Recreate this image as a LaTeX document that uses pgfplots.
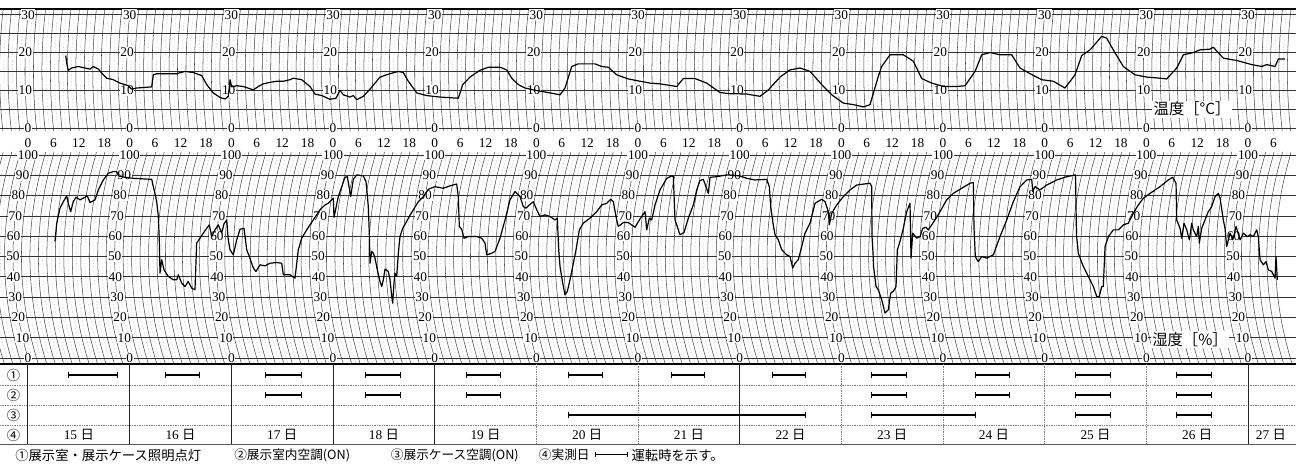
\documentclass[border=0pt]{standalone}
\usepackage{fontspec}
\setmainfont{Liberation Serif}
\newfontfamily\jp{Noto Sans CJK JP}
\usepackage{pgfplots}
\usepackage{pgfplotstable}
\pgfplotsset{compat=1.18}

% x = hours from 15th 0:00 (as drawn on the chart), t = deg C
\pgfplotstableread{
h t
8.90 19.2
9.14 17.2
9.51 15.3
10.32 15.9
11.87 16.3
13.46 15.9
14.64 15.6
15.42 16.3
16.60 15.6
17.78 14.1
18.58 13.2
20.14 12.8
21.72 11.9
23.68 11.2
24.48 10.3
25.66 10.6
29.20 10.9
29.58 14.1
30.38 14.4
35.10 14.4
37.06 15.0
39.02 14.7
41.01 13.9
42.19 11.5
43.74 9.3
45.33 8.1
46.51 7.7
47.28 8.4
47.69 12.8
48.09 10.9
49.27 11.2
50.83 11.0
53.19 10.1
54.37 11.0
55.55 11.7
57.13 12.1
58.71 12.4
60.27 12.4
61.85 12.8
62.63 13.2
64.61 12.8
66.57 11.0
67.75 9.0
69.33 8.6
71.29 7.6
72.71 7.9
73.65 10.0
74.43 8.8
76.01 8.2
76.79 8.6
77.60 7.5
79.15 8.4
80.74 10.3
83.10 13.5
85.46 14.4
87.42 15.0
88.60 14.7
89.78 12.4
91.76 9.3
94.12 8.6
97.26 8.2
101.58 7.9
102.62 11.5
104.34 13.5
106.70 15.3
108.66 16.1
111.42 16.1
113.01 15.4
114.19 13.2
115.75 11.5
117.33 10.6
119.29 10.1
121.27 9.7
123.23 9.3
125.59 8.8
126.77 10.6
128.35 16.3
129.91 17.0
133.85 17.0
135.43 16.3
136.99 16.1
138.97 14.1
141.71 13.0
144.47 12.4
146.84 11.9
149.20 11.7
153.14 11.0
154.70 13.1
157.46 13.1
160.22 11.9
163.36 9.4
165.72 9.1
169.66 9.0
172.80 8.4
174.76 10.1
177.52 13.5
179.89 15.4
182.25 15.9
184.61 15.0
187.37 11.5
189.73 8.8
192.47 6.6
194.83 6.2
197.19 5.6
198.77 6.2
200.73 13.7
201.53 16.3
203.49 19.4
206.63 19.4
208.99 17.7
210.98 13.1
213.34 11.9
216.08 11.0
219.24 11.0
221.20 11.2
223.56 15.0
225.14 19.4
227.10 20.0
229.46 19.4
232.22 19.4
234.17 15.9
236.54 14.4
239.30 12.8
242.04 12.4
244.80 10.6
247.16 14.1
248.74 19.2
250.71 20.7
253.47 24.3
254.65 23.8
256.61 19.9
258.57 16.3
261.33 14.1
264.09 13.5
267.23 13.2
268.81 13.0
271.17 15.9
272.73 19.4
275.09 20.0
276.67 20.7
279.03 20.9
279.81 21.4
282.17 18.5
285.34 17.9
288.88 16.8
291.24 16.3
292.42 16.8
294.38 16.3
295.16 18.3
296.74 18.3
}\temperature

% rh = relative humidity in %
\pgfplotstableread{
h rh
6.37 57.4
6.78 66.4
7.55 73.8
8.33 77.0
9.14 79.8
9.51 76.2
10.08 72.1
10.69 77.0
11.33 79.2
12.28 77.9
13.46 79.2
14.00 79.8
14.64 76.6
15.82 77.9
16.60 82.8
17.78 87.7
18.96 91.0
20.14 91.8
20.94 91.8
21.32 89.7
22.90 89.0
24.86 88.5
29.20 88.0
29.58 84.4
29.98 81.1
30.38 77.0
30.76 69.7
31.00 58.2
31.16 41.8
31.56 48.4
32.11 43.4
33.12 40.2
34.30 38.5
35.10 38.5
35.48 41.0
36.28 36.9
37.06 35.2
37.84 37.7
38.64 34.4
39.42 33.6
39.82 56.6
40.60 59.0
41.38 61.5
42.19 63.9
42.80 65.6
43.37 59.8
44.14 63.1
44.92 65.6
45.73 61.5
46.27 66.1
46.91 68.0
47.28 58.2
47.69 53.3
48.47 50.8
49.27 58.2
50.05 63.4
50.99 63.9
51.63 53.3
52.24 50.0
53.19 44.3
53.82 42.6
54.77 45.9
55.95 45.4
57.13 46.7
58.71 47.0
59.89 46.7
60.27 41.0
61.85 41.0
63.03 39.3
63.81 53.3
64.61 59.0
65.79 63.1
67.35 68.0
68.93 73.0
70.11 75.4
70.89 76.2
72.07 78.7
72.24 69.3
73.25 79.5
74.83 89.0
75.38 89.3
76.18 79.5
76.79 88.0
77.60 90.2
79.15 89.7
79.79 86.9
80.10 80.3
80.33 74.6
80.57 61.5
80.74 46.7
81.14 52.5
81.52 51.6
81.92 49.2
82.46 43.4
83.10 37.7
83.50 35.2
83.88 38.5
84.28 43.8
85.06 42.6
85.46 38.5
85.86 30.3
86.09 27.0
86.40 36.9
86.64 41.8
87.04 40.2
87.42 51.6
87.82 59.8
88.45 63.9
89.23 66.7
90.01 69.7
90.96 73.0
92.14 77.0
93.32 79.5
94.50 83.1
96.08 84.4
98.04 83.6
99.62 84.8
101.20 85.7
101.58 79.5
101.82 64.8
102.38 63.4
102.93 59.0
103.94 59.8
105.92 59.8
107.10 59.0
107.88 56.6
108.28 50.8
109.47 51.6
110.24 52.5
111.42 59.0
112.61 68.0
113.79 77.9
114.97 82.0
116.15 79.5
116.93 74.6
117.56 73.8
118.34 75.4
119.29 77.0
120.09 73.0
120.87 69.7
122.05 70.5
123.23 69.7
124.41 68.0
124.95 68.9
125.28 53.3
125.59 45.1
126.23 36.9
126.77 31.1
127.31 32.8
127.95 38.5
128.59 45.1
129.37 53.3
130.15 63.1
131.09 66.4
132.67 68.9
134.25 72.1
135.43 75.4
136.61 76.2
137.56 78.2
138.17 77.0
138.97 68.0
139.35 64.8
140.53 66.7
141.71 66.7
143.29 64.4
144.47 68.5
145.66 72.1
146.06 63.1
146.67 68.9
147.24 68.0
148.02 75.4
149.20 82.8
150.78 88.5
151.96 89.7
152.34 89.3
152.74 68.0
153.14 65.6
153.92 60.7
154.86 61.8
155.88 68.9
157.06 75.4
157.86 82.8
158.64 87.4
159.42 88.0
160.60 81.1
161.00 89.0
162.58 89.3
164.94 90.2
168.08 89.7
169.66 88.5
171.62 87.7
174.39 88.0
175.00 84.4
175.33 74.6
175.80 67.2
176.35 60.7
177.12 58.2
177.93 53.3
179.10 50.8
179.89 50.0
180.52 44.3
181.07 46.7
181.84 48.4
182.65 54.9
183.43 61.5
184.61 66.4
185.79 76.2
187.37 78.2
188.15 77.0
188.93 72.1
189.16 65.6
189.73 71.3
190.91 75.4
192.47 79.5
194.05 82.8
195.63 85.2
198.77 86.1
199.17 84.4
199.24 60.0
199.48 51.6
199.60 45.1
200.19 35.2
200.73 33.6
201.53 28.7
202.31 22.1
203.09 23.8
203.66 32.0
204.27 32.8
204.91 35.2
205.22 53.3
205.85 57.4
206.63 63.9
207.43 72.1
208.21 76.2
208.45 49.2
208.85 61.5
209.79 59.0
210.58 59.8
211.21 63.9
211.99 64.4
212.53 63.1
214.52 69.3
216.87 77.9
218.43 81.1
220.02 83.1
222.38 86.1
223.16 86.4
223.32 64.0
223.63 50.0
224.03 48.4
224.34 47.5
225.14 50.0
226.32 49.2
227.88 50.8
229.46 59.8
231.04 68.0
232.60 77.0
234.18 84.4
235.76 87.7
236.94 88.0
237.18 82.0
237.72 84.4
238.90 82.8
240.48 85.2
242.84 87.7
245.20 89.3
247.28 90.2
247.51 60.7
247.94 51.6
249.12 45.1
250.30 40.2
251.48 35.2
252.29 30.3
252.90 30.3
253.47 35.2
253.84 35.2
254.25 54.9
255.03 59.8
256.21 63.1
257.39 63.1
258.57 65.6
259.75 66.4
260.93 71.3
262.11 75.4
263.29 78.7
264.87 81.1
267.23 84.4
269.19 87.7
270.23 89.0
271.01 86.1
271.17 68.0
271.95 63.9
272.35 59.0
272.90 66.4
273.53 63.1
274.15 58.2
274.71 66.4
275.09 63.1
275.89 59.8
276.27 64.8
276.51 56.6
277.07 63.9
277.85 68.0
278.63 72.1
279.44 74.6
280.22 79.5
281.00 81.1
281.40 78.7
282.17 68.0
282.57 63.9
282.97 54.9
283.76 61.5
284.40 58.2
285.18 64.8
286.12 58.2
286.90 61.5
287.84 59.8
288.48 60.7
289.26 59.8
290.05 63.1
290.43 59.8
290.84 48.4
291.62 45.9
292.25 47.5
292.80 43.4
293.60 42.6
294.38 39.3
294.61 50.0
294.92 38.5
}\humidity

\pgfplotsset{
  base/.style={hide axis, clip=false, anchor=south west,
    x=3.1771pt, xmin=-6.61, xmax=299.3},
}
\tikzset{
  arcmaj/.style={black!70, line width=0.4pt},
  arcmin/.style={black!22, line width=0.3pt, dash pattern=on 1.2pt off 1.4pt},
  hline/.style={black!80, line width=0.45pt},
  trace/.style={black, line width=0.9pt, line join=round},
  lab/.style={fill=white, inner sep=0.6pt, font=\fontsize{10}{10}\selectfont},
  hr/.style={inner sep=0pt, font=\fontsize{10}{10}\selectfont},
  jpf/.style={inner sep=0pt, font=\jp\fontsize{10}{10}\selectfont},
  jps/.style={inner sep=0pt, font=\jp\fontsize{9.5}{9.5}\selectfont},
}

\begin{document}
\begin{tikzpicture}
\useasboundingbox (0,0) rectangle (972pt,-349.5pt);
\clip (0,0) rectangle (972pt,-349.5pt);
\fill[white] (0,0) rectangle (972pt,-349.5pt);

% ---------------- temperature ----------------
\begin{axis}[base, y=2.831pt, ymin=-1.3, ymax=32, at={(0pt,-99.7pt)}]
\pgfplotsinvokeforeach{-5,-3,...,297}{
  \draw[arcmin] ([xshift=0.25pt]axis cs:#1,-0.8) -- (axis cs:#1,0)
    .. controls ([xshift=-3pt]axis cs:#1,10) and ([xshift=-3pt]axis cs:#1,20) .. (axis cs:#1,30)
    -- ([xshift=0.5pt]axis cs:#1,31.6);
}
\pgfplotsinvokeforeach{-6,-4,...,298}{
  \draw[arcmaj] ([xshift=0.25pt]axis cs:#1,-0.8) -- (axis cs:#1,0)
    .. controls ([xshift=-3pt]axis cs:#1,10) and ([xshift=-3pt]axis cs:#1,20) .. (axis cs:#1,30)
    -- ([xshift=0.5pt]axis cs:#1,31.6);
}
\pgfplotsinvokeforeach{0,5,...,30}{
  \draw[hline] (axis cs:-6.61,#1) -- (axis cs:299.3,#1);
}
\draw[black, line width=1.3pt] (axis cs:-6.61,31.6) -- (axis cs:299.3,31.6);
\pgfplotsinvokeforeach{0,24,...,288}{
  \node[lab] at (axis cs:#1,30) {30};
  \node[lab] at ([xshift=-2pt]axis cs:#1,20) {20};
  \node[lab] at ([xshift=-2pt]axis cs:#1,10) {10};
  \node[lab] at (axis cs:#1,0) {0};
}
\pgfplotsinvokeforeach{0,24,...,264}{
  \node[hr] at (axis cs:#1,-3.97) {0};
  \node[hr] at ([xshift=19.06pt]axis cs:#1,-3.97) {6};
  \node[hr] at ([xshift=38.13pt]axis cs:#1,-3.97) {12};
  \node[hr] at ([xshift=57.19pt]axis cs:#1,-3.97) {18};
}
\node[hr] at (axis cs:288,-3.97) {0};
\node[hr] at (axis cs:294,-3.97) {6};
\node[fill=white, inner sep=1pt, font=\jp\fontsize{11.5}{11.5}\selectfont] at (axis cs:274.8,5) {温度［°C］};
\addplot[trace] table[x=h, y=t] {\temperature};
\end{axis}

% ---------------- humidity ----------------
\begin{axis}[base, y=1.5225pt, ymin=-2.5, ymax=103, at={(0pt,-272.3pt)}]
\pgfplotsinvokeforeach{-5,-3,...,297}{
  \draw[arcmin] ([xshift=1.15pt]axis cs:#1,-2.5) -- (axis cs:#1,0)
    .. controls ([xshift=-15pt]axis cs:#1,33.333) and ([xshift=-15pt]axis cs:#1,66.667) .. (axis cs:#1,100)
    -- ([xshift=0.45pt]axis cs:#1,101.5);
}
\pgfplotsinvokeforeach{-6,-4,...,298}{
  \draw[arcmaj] ([xshift=1.15pt]axis cs:#1,-2.5) -- (axis cs:#1,0)
    .. controls ([xshift=-15pt]axis cs:#1,33.333) and ([xshift=-15pt]axis cs:#1,66.667) .. (axis cs:#1,100)
    -- ([xshift=0.45pt]axis cs:#1,101.5);
}
\pgfplotsinvokeforeach{0,10,...,100}{
  \draw[hline] (axis cs:-6.61,#1) -- (axis cs:299.3,#1);
}
\pgfplotsinvokeforeach{0,24,...,288}{
  \node[lab] at ([xshift=0pt]axis cs:#1,100) {100};
  \node[lab] at ([xshift=-4.05pt]axis cs:#1,90) {90};
  \node[lab] at ([xshift=-7.2pt]axis cs:#1,80) {80};
  \node[lab] at ([xshift=-9.45pt]axis cs:#1,70) {70};
  \node[lab] at ([xshift=-10.8pt]axis cs:#1,60) {60};
  \node[lab] at ([xshift=-11.25pt]axis cs:#1,50) {50};
  \node[lab] at ([xshift=-10.8pt]axis cs:#1,40) {40};
  \node[lab] at ([xshift=-9.45pt]axis cs:#1,30) {30};
  \node[lab] at ([xshift=-7.2pt]axis cs:#1,20) {20};
  \node[lab] at ([xshift=-4.05pt]axis cs:#1,10) {10};
  \node[lab] at (axis cs:#1,0) {0};
}
\node[fill=white, inner sep=1pt, font=\jp\fontsize{11.5}{11.5}\selectfont] at (axis cs:274.3,8.9) {湿度［\%］};
\addplot[trace] table[x=h, y=rh] {\humidity};
\end{axis}

% ---------------- operation table ----------------
\begin{axis}[base, y=15pt, ymin=-0.45, ymax=3.55, at={(0pt,-333pt)}, unbounded coords=jump]
\draw[black, line width=0.8pt] (axis cs:-6.61,3.55) -- (axis cs:299.3,3.55);
\pgfplotsinvokeforeach{0.5,1.5,2.5}{
  \draw[black!50, line width=0.4pt, dash pattern=on 1pt off 0.8pt] (axis cs:-6.61,#1) -- (axis cs:299.3,#1);
}
\draw[black!65, line width=0.5pt] (axis cs:-6.61,-0.45) -- (axis cs:299.3,-0.45);
\pgfplotsinvokeforeach{-0.24,24,48,72,96,168,288}{
  \draw[black!85, line width=0.5pt] (axis cs:#1,3.55) -- (axis cs:#1,-0.45);
}
\pgfplotsinvokeforeach{120,144,192,216,240,264}{
  \draw[black!50, line width=0.45pt, dash pattern=on 1pt off 0.8pt] (axis cs:#1,3.55) -- (axis cs:#1,-0.45);
}
\node[jpf] at (axis cs:-3.4,3) {①};
\node[jpf] at (axis cs:-3.4,2) {②};
\node[jpf] at (axis cs:-3.4,1) {③};
\node[jpf] at (axis cs:-3.4,0) {④};
\node[hr] at (axis cs:12,0) {15 {\jp 日}};
\node[hr] at (axis cs:36,0) {16 {\jp 日}};
\node[hr] at (axis cs:60,0) {17 {\jp 日}};
\node[hr] at (axis cs:84,0) {18 {\jp 日}};
\node[hr] at (axis cs:108,0) {19 {\jp 日}};
\node[hr] at (axis cs:132,0) {20 {\jp 日}};
\node[hr] at (axis cs:156,0) {21 {\jp 日}};
\node[hr] at (axis cs:180,0) {22 {\jp 日}};
\node[hr] at (axis cs:204,0) {23 {\jp 日}};
\node[hr] at (axis cs:228,0) {24 {\jp 日}};
\node[hr] at (axis cs:252,0) {25 {\jp 日}};
\node[hr] at (axis cs:276,0) {26 {\jp 日}};
\node[hr] at (axis cs:293.4,0) {27 {\jp 日}};
% row 1: lighting
\addplot[black, line width=0.8pt, mark=|, mark size=1.9pt, mark options={solid, line width=0.6pt}] coordinates {
(9.5,3) (21.0,3) (nan,3) (32.4,3) (40.4,3) (nan,3) (56.0,3) (64.5,3) (nan,3)
(79.6,3) (87.9,3) (nan,3) (103.4,3) (111.4,3) (nan,3) (127.5,3) (135.5,3) (nan,3)
(151.9,3) (159.7,3) (nan,3) (175.7,3) (183.5,3) (nan,3) (199.2,3) (207.4,3) (nan,3)
(223.6,3) (231.7,3) (nan,3) (247.2,3) (255.5,3) (nan,3) (271.0,3) (279.3,3)};
% row 2: room air conditioning
\addplot[black, line width=0.8pt, mark=|, mark size=1.9pt, mark options={solid, line width=0.6pt}] coordinates {
(56.0,2) (64.5,2) (nan,2) (79.6,2) (87.9,2) (nan,2) (103.4,2) (111.4,2) (nan,2)
(199.2,2) (207.4,2) (nan,2) (223.6,2) (231.7,2) (nan,2) (247.2,2) (255.5,2) (nan,2)
(271.0,2) (279.3,2)};
% row 3: showcase air conditioning
\addplot[black, line width=0.8pt, mark=|, mark size=1.9pt, mark options={solid, line width=0.6pt}] coordinates {
(127.5,1) (183.5,1) (nan,1) (199.2,1) (223.6,1) (nan,1) (247.2,1) (255.5,1) (nan,1)
(271.0,1) (279.3,1)};
% key sample in the caption line
\addplot[black, line width=0.8pt, mark=|, mark size=1.9pt, mark options={solid, line width=0.6pt}] coordinates {
(134.0,-0.98) (141.5,-0.98)};
\end{axis}

% ---------------- caption ----------------
\node[jpf, anchor=west] at (11.25pt,-341.25pt) {①展示室・展示ケース照明点灯};
\node[jps, anchor=west] at (175.5pt,-341.25pt) {②展示室内空調(ON)};
\node[jps, anchor=west] at (293pt,-341.25pt) {③展示ケース空調(ON)};
\node[jps, anchor=west] at (404pt,-341.25pt) {④実測日};
\node[jpf, anchor=west] at (473.5pt,-341.25pt) {運転時を示す。};
\end{tikzpicture}
\end{document}
